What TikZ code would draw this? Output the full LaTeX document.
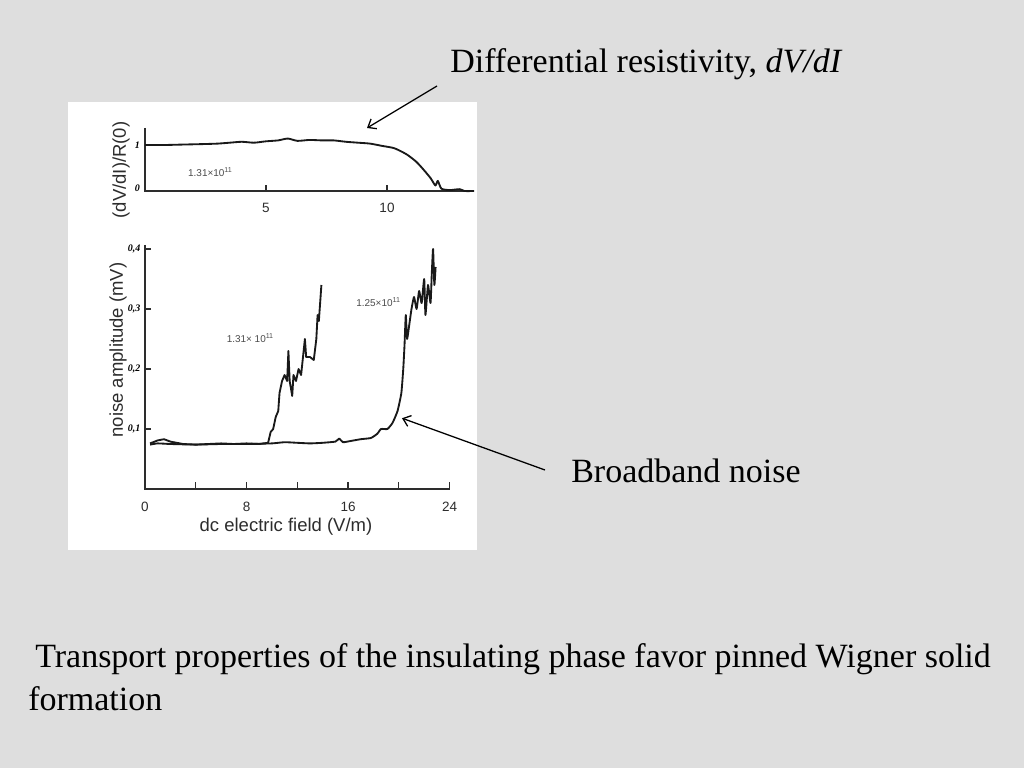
\documentclass[tikz,border=0pt]{standalone}
\usepackage{fontspec}
\setmainfont{Liberation Serif}
\setsansfont{Liberation Sans}
\usetikzlibrary{positioning, arrows.meta}
\definecolor{slidegray}{RGB}{222,222,222}
\definecolor{inkgray}{RGB}{45,45,45}

\begin{document}
\begin{tikzpicture}[x=0.703125pt, y=-0.703125pt,
    callout/.style={draw, line width=0.9pt, -{Straight Barb[length=5pt,width=8pt]}},
    slidetext/.style={font=\fontsize{23.9}{29}\selectfont, inner sep=0pt, anchor=base west},
    axislabel/.style={font=\sffamily\fontsize{13}{15}\selectfont, text=inkgray, inner sep=0pt},
    ticklabel/.style={font=\sffamily\fontsize{9.5}{11}\selectfont, text=inkgray, inner sep=0pt},
    vticklabel/.style={font=\bfseries\itshape\fontsize{7}{8}\selectfont, inner sep=0pt, anchor=east},
    curvelabel/.style={font=\sffamily\fontsize{7}{8}\selectfont, text=inkgray!85, inner sep=0pt},
    trace/.style={line width=1.3pt, line join=round, draw=black!90},
    axisline/.style={line width=0.9pt, draw=inkgray}]

  % slide and scanned panel
  \fill[slidegray] (0,0) rectangle (1024,768);
  \fill[white] (68,102) rectangle (477,550);

  % top plot: (dV/dI)/R(0)
  \begin{scope}[shift={(145,191)}, x=17.016pt, y=32.344pt]
    \draw[axisline] (0,1.37) -- (0,0) -- (13.6,0);
    \foreach \t in {5,10} {
      \draw[axisline] (\t,0) -- (\t,0.12);
      \node[ticklabel] (top tick \t) at (\t,-0.37) {\t};
    }
    \draw[axisline] (0,1) -- (0.2,1);
    \node[vticklabel] (top one) at (-0.2,1) {1};
    \node[vticklabel] (top zero) at (-0.2,0.05) {0};
    \node[curvelabel] (top density) at (2.7,0.41) {1.31×10\textsuperscript{11}};
    \draw[trace] plot[smooth, tension=0.4] coordinates {
      (0,1.0) (0.8,1.0) (1.6,1.01) (2.4,1.02) (3,1.03) (3.5,1.05) (4,1.07)
      (4.5,1.05) (5,1.08) (5.5,1.1) (5.9,1.14) (6.3,1.09) (6.8,1.11) (7.3,1.1)
      (7.8,1.1) (8.3,1.07) (8.8,1.05) (9.3,1.03) (9.8,0.98) (10.3,0.93)
      (10.8,0.8) (11.2,0.64) (11.5,0.47) (11.8,0.28) (12,0.12) (12.1,0.22)
      (12.25,0.05) (12.6,0.02) (13,0.04) (13.2,0.0) (13.6,0.0)};
  \end{scope}

  % bottom plot: noise amplitude
  \begin{scope}[shift={(145,489)}, x=8.923pt, y=421.875pt]
    \draw[axisline] (0,0.407) -- (0,0) -- (24,0);
    \foreach \t in {4,8,...,24}
      \draw[axisline] (\t,0) -- (\t,0.012);
    \foreach \t in {0,8,16,24}
      \node[ticklabel] (bottom tick \t) at (\t,-0.03) {\t};
    \foreach \v/\s in {1/{0,1},2/{0,2},3/{0,3},4/{0,4}} {
      \draw[axisline] (0,0.\v) -- (0.45,0.\v);
      \node[vticklabel] (bottom vtick \v) at (-0.35,0.\v) {\s};
    }
    \node[curvelabel] (low density) at (8.3,0.252) {1.31× 10\textsuperscript{11}};
    \node[curvelabel] (high density) at (18.4,0.312) {1.25×10\textsuperscript{11}};
    % 1.31 x 10^11 trace
    \draw[trace] plot coordinates {
      (0.4,0.076) (1,0.081) (1.5,0.083) (2,0.079) (3,0.075) (4,0.074) (5,0.075)
      (6,0.076) (7,0.075) (8,0.076) (9,0.075) (9.7,0.077) (9.9,0.095) (10.1,0.1)
      (10.3,0.12) (10.5,0.13) (10.6,0.16) (10.8,0.18) (11,0.19) (11.2,0.18)
      (11.3,0.23) (11.4,0.18) (11.6,0.155) (11.7,0.19) (11.9,0.18) (12.1,0.2)
      (12.3,0.19) (12.4,0.21) (12.6,0.25) (12.7,0.22) (13,0.22) (13.3,0.215)
      (13.5,0.25) (13.6,0.29) (13.7,0.28) (13.9,0.34)};
    % 1.25 x 10^11 trace
    \draw[trace] plot[smooth, tension=0.3] coordinates {
      (0.4,0.074) (1,0.076) (2,0.075) (4,0.074) (6,0.075) (8,0.075) (10,0.076)
      (11,0.078) (12,0.077) (13,0.076) (14,0.077) (15,0.079) (15.3,0.084)
      (15.6,0.078) (16.2,0.08) (17,0.083) (17.8,0.085) (18.3,0.092) (18.6,0.1)
      (19.1,0.1) (19.5,0.11) (19.9,0.13) (20.2,0.16) (20.35,0.2) (20.45,0.24)
      (20.55,0.29) (20.65,0.25) (20.8,0.27) (21,0.3) (21.2,0.32) (21.4,0.3)
      (21.6,0.33) (21.8,0.31) (22,0.35) (22.1,0.29) (22.3,0.34) (22.5,0.31)
      (22.6,0.36) (22.7,0.4) (22.8,0.34) (22.9,0.37)};
    \coordinate (noise tip) at (20.25,0.118);
  \end{scope}

  % axis titles
  \node[axislabel, rotate=90] (dvdi axis) at (121,170) {(dV/dI)/R(0)};
  \node[axislabel, rotate=90] (noise axis) at (118,350) {noise amplitude (mV)};
  \node[axislabel] (field axis) at (286,527) {dc electric field (V/m)};

  % callouts
  \node[slidetext] (diff label) at (450,73) {Differential resistivity, \textit{dV/dI}};
  \coordinate (diff start) at (437,86);
  \coordinate (diff tip) at (367,128);
  \draw[callout] (diff start) -- (diff tip);

  \node[slidetext] (noise label) at (571,482) {Broadband noise};
  \coordinate (noise start) at (545,470);
  \draw[callout] (noise start) -- (noise tip);

  % caption
  \node[slidetext] (caption one) at (35,667) {Transport properties of the insulating phase favor pinned Wigner solid};
  \node[slidetext] (caption two) at (28,710) {formation};
\end{tikzpicture}
\end{document}
